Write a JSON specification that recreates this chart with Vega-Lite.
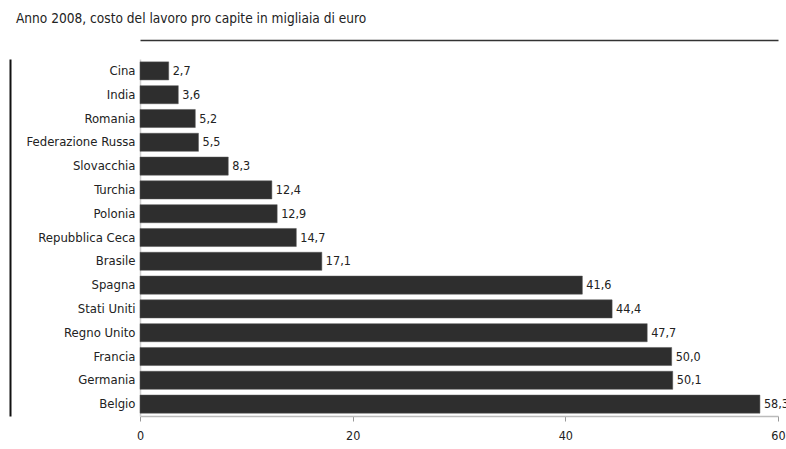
{
  "$schema": "https://vega.github.io/schema/vega-lite/v6.json",
  "autosize": "none",
  "width": 638,
  "height": 357,
  "padding": {"left": 140, "top": 59, "right": 8, "bottom": 33},
  "background": "white",
  "title": {
    "text": "Anno 2008, costo del lavoro pro capite in migliaia di euro",
    "anchor": "start",
    "frame": "group",
    "dx": -124,
    "offset": 14,
    "font": "DejaVu Sans Condensed",
    "fontSize": 13.6,
    "fontWeight": "normal",
    "color": "#222"
  },
  "config": {
    "locale": {"number": {"decimal": ",", "thousands": ".", "grouping": [3], "currency": ["€", ""]}},
    "view": {"stroke": null},
    "font": "DejaVu Sans Condensed"
  },
  "data": {
    "values": [
      {"paese": "Cina", "valore": 2.7},
      {"paese": "India", "valore": 3.6},
      {"paese": "Romania", "valore": 5.2},
      {"paese": "Federazione Russa", "valore": 5.5},
      {"paese": "Slovacchia", "valore": 8.3},
      {"paese": "Turchia", "valore": 12.4},
      {"paese": "Polonia", "valore": 12.9},
      {"paese": "Repubblica Ceca", "valore": 14.7},
      {"paese": "Brasile", "valore": 17.1},
      {"paese": "Spagna", "valore": 41.6},
      {"paese": "Stati Uniti", "valore": 44.4},
      {"paese": "Regno Unito", "valore": 47.7},
      {"paese": "Francia", "valore": 50.0},
      {"paese": "Germania", "valore": 50.1},
      {"paese": "Belgio", "valore": 58.3}
    ]
  },
  "encoding": {
    "y": {
      "field": "paese",
      "type": "nominal",
      "sort": null,
      "scale": {"paddingInner": 0.24, "paddingOuter": 0.12}
    },
    "x": {
      "field": "valore",
      "type": "quantitative",
      "scale": {"domain": [0, 60], "nice": false}
    }
  },
  "layer": [
    {
      "mark": {"type": "bar", "color": "#2e2e2e", "stroke": "#555", "strokeWidth": 0.5},
      "encoding": {
        "y": {
          "field": "paese", "type": "nominal", "sort": null,
          "axis": {
            "orient": "left",
            "title": null, "ticks": false, "domainColor": "#d0d0d0", "domainWidth": 1.5,
            "labelPadding": 5, "labelFontSize": 13, "labelColor": "#222",
            "labelFont": "DejaVu Sans Condensed"
          }
        },
        "x": {
          "field": "valore", "type": "quantitative",
          "axis": {
            "orient": "bottom",
            "title": null, "values": [0, 20, 40, 60], "grid": false,
            "domainColor": "#bbbbbb", "domainWidth": 1.5, "tickColor": "#999", "tickSize": 5,
            "labelPadding": 8, "labelFontSize": 12.5, "labelColor": "#222",
            "labelFont": "DejaVu Sans Condensed", "labelFlush": false
          }
        }
      }
    },
    {
      "mark": {"type": "text", "align": "left", "dx": 4, "fontSize": 12.5, "color": "#222", "font": "DejaVu Sans Condensed"},
      "encoding": {
        "text": {"field": "valore", "type": "quantitative", "format": ".1f"},
        "y": {
          "field": "paese", "type": "nominal", "sort": null,
          "axis": {"orient": "left", "title": null, "labels": false, "ticks": false, "domainColor": "#111", "domainWidth": 2, "offset": 130}
        },
        "x": {
          "field": "valore", "type": "quantitative",
          "axis": {"orient": "top", "title": null, "labels": false, "ticks": false, "grid": false, "domainColor": "#333", "domainWidth": 1.5, "offset": 19}
        }
      }
    }
  ],
  "resolve": {"axis": {"x": "independent", "y": "independent"}}
}
